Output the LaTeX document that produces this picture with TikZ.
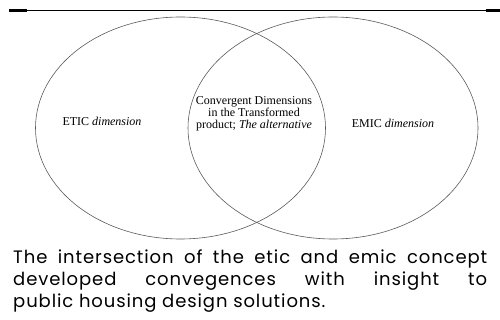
\documentclass[tikz,border=0pt]{standalone}
\usepackage{fontspec}
\setmainfont{Liberation Serif}
\newfontfamily\capfont[LetterSpace=5]{Poppins}
\usetikzlibrary{shapes.geometric}
\begin{document}
\begin{tikzpicture}[x=1pt,y=-1pt,
  venn/.style={draw=black!65, line width=0.6pt, ellipse, minimum width=290pt, minimum height=222pt, inner sep=0pt},
  lbl/.style={font=\fontsize{12}{12.5}\selectfont, align=center, inner sep=0pt},
  rule/.style={line width=0.8pt},
  rulethick/.style={line width=2.4pt}]
\useasboundingbox (0,0) rectangle (500,320);
\coordinate (l0) at (9,10.6);
\coordinate (l1) at (27,10.6);
\coordinate (r0) at (486,10.6);
\coordinate (r1) at (500,10.6);
\draw[rule] (l0) -- (r1);
\draw[rulethick] (l0) -- (l1);
\draw[rulethick] (r0) -- (r1);
\node[venn] (etic) at (180.5,128) {};
\node[venn] (emic) at (333,128) {};
\node[lbl] (eticl) at (102,121) {ETIC \textit{dimension}};
\node[lbl] (emicl) at (393,123) {EMIC \textit{dimension}};
\node[lbl, font=\fontsize{12}{11.8}\selectfont] (conv) at (254,114) {Convergent Dimensions\\in the Transformed\\product; \textit{The alternative}};
\node[anchor=north west, text width=474pt, align=justify, inner sep=0pt,
  font=\capfont\fontsize{18}{22}\selectfont] (cap) at (13,250)
  {\hyphenpenalty=10000 The intersection of the etic and emic concept\linebreak developed convegences with insight to\linebreak public housing design solutions.};
\end{tikzpicture}
\end{document}
